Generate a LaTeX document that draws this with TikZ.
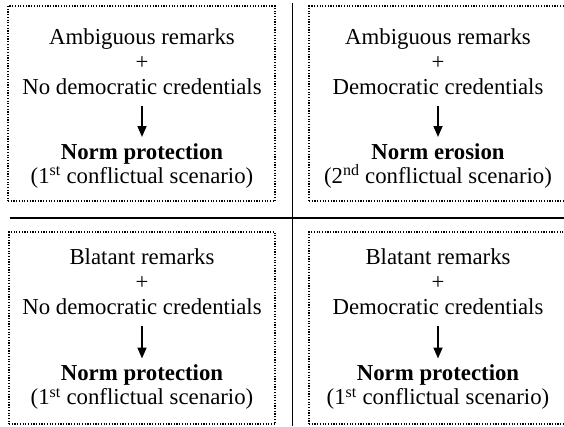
\documentclass[tikz,border=0pt]{standalone}
\usepackage{fontspec}
\setmainfont{Liberation Serif}
\usetikzlibrary{arrows.meta}

\begin{document}
\begin{tikzpicture}[x=1pt,y=-1pt,
    panel/.style={draw, line width=1.3pt, dash pattern=on 1.2pt off 1.5pt, inner sep=0pt},
    cond/.style={align=center, inner sep=0pt, anchor=north, font=\fontsize{22.8}{25}\selectfont},
    result/.style={cond, font=\fontsize{22.8}{24}\selectfont},
    lead/.style={line width=1.7pt, -{Triangle[length=11pt,width=9pt]}, shorten <=11pt, shorten >=6pt},
    divider/.style={line width=1.7pt}]
\useasboundingbox (0,0) rectangle (564,426);

% the four panels
\node[panel, minimum width=267pt, minimum height=195pt] (tlbox) at (141.5,103.5) {};
\node[panel, minimum width=258pt, minimum height=195pt] (trbox) at (438,103.5) {};
\node[panel, minimum width=266pt, minimum height=192pt] (blbox) at (142,328) {};
\node[panel, minimum width=258pt, minimum height=192pt] (brbox) at (438,328) {};

% cross
\coordinate (hl) at (9.5,218);
\coordinate (hr) at (564,218);
\coordinate (vt) at (292.5,3);
\coordinate (vb) at (292.5,426);
\draw[divider] (hl) -- (hr);
\draw[divider] (vt) -- (vb);

% top left
\node[cond] (tl) at (142,28.5) {Ambiguous remarks\\+\\No democratic credentials};
\node[result] (tlout) at (142,143) {\textbf{Norm protection}\\(1\textsuperscript{st} conflictual scenario)};
\draw[lead] (tl.south) -- (tlout.north);

% top right
\node[cond] (tr) at (438,28.5) {Ambiguous remarks\\+\\Democratic credentials};
\node[result] (trout) at (438,143) {\textbf{Norm erosion}\\(2\textsuperscript{nd} conflictual scenario)};
\draw[lead] (tr.south) -- (trout.north);

% bottom left
\node[cond] (bl) at (142,248.5) {Blatant remarks\\+\\No democratic credentials};
\node[result] (blout) at (142,364.5) {\textbf{Norm protection}\\(1\textsuperscript{st} conflictual scenario)};
\draw[lead] (bl.south) -- (blout.north);

% bottom right
\node[cond] (br) at (438,248.5) {Blatant remarks\\+\\Democratic credentials};
\node[result] (brout) at (438,364.5) {\textbf{Norm protection}\\(1\textsuperscript{st} conflictual scenario)};
\draw[lead] (br.south) -- (brout.north);
\end{tikzpicture}
\end{document}
